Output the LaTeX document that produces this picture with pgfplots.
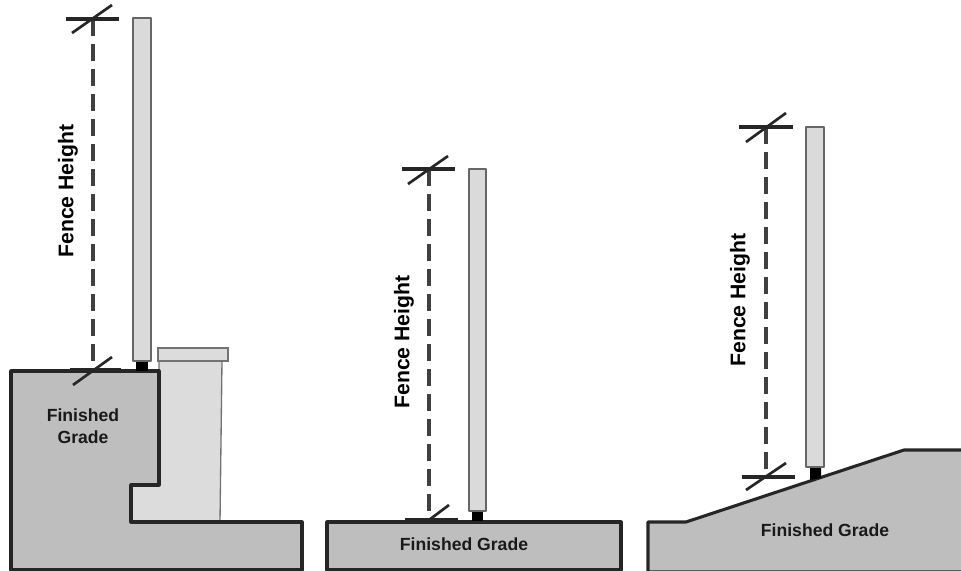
\documentclass[border=0pt]{standalone}
\usepackage{fontspec}
\setmainfont{Liberation Sans}
\usepackage{pgfplots}
\pgfplotsset{compat=1.18}

\definecolor{grade}{HTML}{BEBEBE}
\definecolor{post}{HTML}{DADADA}
\definecolor{wall}{HTML}{DCDCDC}
\definecolor{ink}{HTML}{262626}

\tikzset{
    gradeshape/.style={draw=ink,fill=grade,line width=2.3pt,line join=round},
    postshape/.style={draw=black!60,fill=post,line width=1.5pt,line join=round},
    wallshape/.style={draw=black!55,fill=wall,line width=1pt},
    foot/.style={draw=none,fill=black},
    tickline/.style={draw=ink,line width=2pt},
    flatline/.style={draw=ink,line width=2.3pt},
    dimline/.style={draw=black!75,line width=2.5pt,dash pattern=on 12.75pt off 6pt},
    fh/.style={font=\fontsize{15.9}{18}\selectfont\bfseries,rotate=90,text=black},
    fg/.style={font=\fontsize{13.2}{16.5}\selectfont\bfseries,text=black!90,align=center},
}

\begin{document}
\begin{tikzpicture}
\path[use as bounding box] (0,0) rectangle (720.75pt,428.25pt);
\begin{axis}[
    hide axis,
    scale only axis,
    width=720.75pt,
    height=428.25pt,
    xmin=0, xmax=961,
    ymin=0, ymax=571,
    y dir=reverse,
    clip=false,
]
% left: retaining wall
\addplot[wallshape] coordinates {(131,522) (131,485) (159,485) (159,361) (222,361) (220,522)} --cycle;
\addplot[wallshape] coordinates {(158,348) (228,348) (228,361) (158,361)} --cycle;
\addplot[gradeshape] coordinates {(11,371) (159,371) (159,485) (131,485) (131,522) (302,522) (302,570) (11,570)} --cycle;
\addplot[foot] coordinates {(136,361) (148,361) (148,371) (136,371)} --cycle;
\addplot[postshape] coordinates {(133,18) (151,18) (151,361) (133,361)} --cycle;
\addplot[dimline] coordinates {(93,19) (93,370)};
\addplot[flatline] coordinates {(66,19) (119,19)};
\addplot[tickline] coordinates {(72,33) (112,5)};
\addplot[flatline] coordinates {(70,370) (121,370)};
\addplot[tickline] coordinates {(73,385) (112,357)};

% middle: flat grade
\addplot[gradeshape] coordinates {(327,522) (621,522) (621,570) (327,570)} --cycle;
\addplot[foot] coordinates {(472,511) (483,511) (483,521) (472,521)} --cycle;
\addplot[postshape] coordinates {(469,169) (486,169) (486,511) (469,511)} --cycle;
\addplot[dimline] coordinates {(429,169) (429,520)};
\addplot[flatline] coordinates {(402,169) (455,169)};
\addplot[tickline] coordinates {(408,184) (448,156)};
\addplot[flatline] coordinates {(405,520) (458,520)};
\addplot[tickline] coordinates {(429,520) (449,505)};

% right: sloped grade
\addplot[gradeshape] coordinates {(648,572) (648,522) (686,522) (904,450) (963,450) (963,572)} --cycle;
\addplot[foot] coordinates {(810,468) (821,468) (821,478) (810,480)} --cycle;
\addplot[postshape] coordinates {(806,127) (824,127) (824,467) (806,467)} --cycle;
\addplot[dimline] coordinates {(766,127) (766,477)};
\addplot[flatline] coordinates {(739,127) (793,127)};
\addplot[tickline] coordinates {(746,142) (786,113)};
\addplot[flatline] coordinates {(742,477) (795,477)};
\addplot[tickline] coordinates {(746,490) (786,463)};

\node[fh] at (axis cs:68,191) {Fence Height};
\node[fh] at (axis cs:404,342) {Fence Height};
\node[fh] at (axis cs:740,300) {Fence Height};
\node[fg] at (axis cs:83,426.5) {Finished\\Grade};
\node[fg] at (axis cs:464,544) {Finished Grade};
\node[fg] at (axis cs:825,530) {Finished Grade};
\end{axis}
\end{tikzpicture}
\end{document}
